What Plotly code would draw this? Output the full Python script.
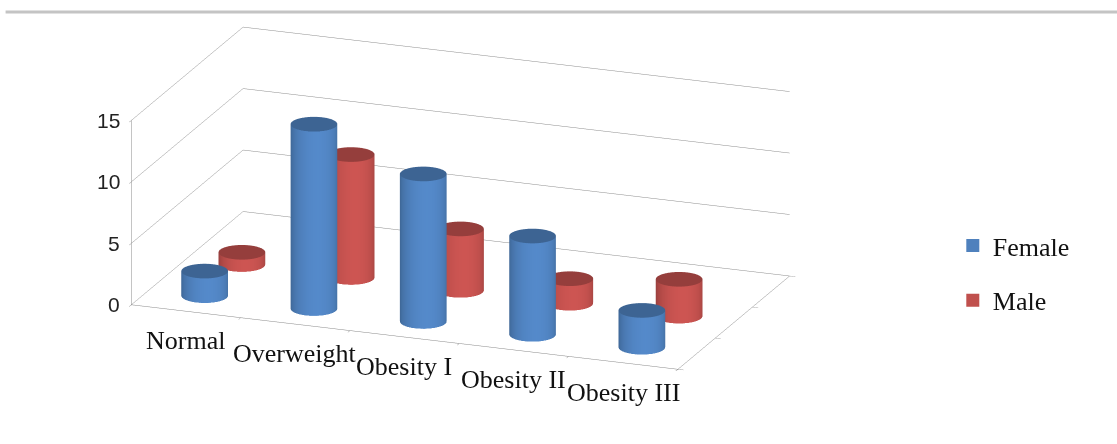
import numpy as np
import plotly.graph_objects as go

categories = ["Normal", "Overweight", "Obesity I", "Obesity II", "Obesity III"]
series_names = ["Female", "Male"]
female = [2, 15, 12, 8, 3]
male = [1, 10, 5, 2, 3]
z_ticks = [0, 5, 10, 15]

base_rgb = {"Female": (79, 129, 189), "Male": (192, 80, 77)}
legend_colors = {"Female": "#4F81BD", "Male": "#C0504D"}
values = {"Female": female, "Male": male}

AX, AY, AZ = 2.63, 1.43, 0.875
NX, NY = 5, 3
RX = 0.2
RY = RX * (AX / NX) / (AY / NY)
N = 72
ALPHA_DEG, THETA_DEG = 20.6, 15.4
LIGHT_ANGLE = np.radians(-60)


def shade(rgb, f):
    return "rgb(%d,%d,%d)" % tuple(int(min(255, c * f)) for c in rgb)


def cylinder(xc, yc, h, rgb, rx=RX, ry=RY, n=N):
    t = np.linspace(0, 2 * np.pi, n, endpoint=False)
    cx, cy = xc + rx * np.cos(t), yc + ry * np.sin(t)
    xs = list(cx) + list(cx) + list(cx) + [xc]
    ys = list(cy) + list(cy) + list(cy) + [yc]
    zs = [0] * n + [h] * n + [h] * n + [h]
    side = [shade(rgb, 0.8 + 0.27 * max(0.0, np.cos(a - LIGHT_ANGLE))) for a in t]
    cap = shade(rgb, 0.78)
    vc = side + side + [cap] * n + [cap]
    I, J, K = [], [], []
    for k in range(n):
        a, b = k, (k + 1) % n
        I += [a, b]
        J += [b, n + b]
        K += [n + a, n + a]
    c = 3 * n
    for k in range(n):
        a, b = 2 * n + k, 2 * n + (k + 1) % n
        I.append(c); J.append(a); K.append(b)
    return xs, ys, zs, I, J, K, vc


fig = go.Figure()
for si, name in reversed(list(enumerate(series_names))):
    for ci, v in enumerate(values[name]):
        xs, ys, zs, I, J, K, vc = cylinder(ci, si, v, base_rgb[name])
        fig.add_trace(go.Mesh3d(
            x=xs, y=ys, z=zs, i=I, j=J, k=K, vertexcolor=vc,
            flatshading=False, showlegend=False, hoverinfo="skip",
            lighting=dict(ambient=1.0, diffuse=0.0, specular=0.0,
                          roughness=1.0, fresnel=0.0),
        ))

for gi, name in enumerate(series_names):
    fig.add_trace(go.Scatter3d(
        x=[None], y=[None], z=[None], mode="markers", name=name,
        legendgroup=name,
        marker=dict(symbol="square", size=13, color=legend_colors[name]),
    ))

axis_common = dict(
    showbackground=True, backgroundcolor="white",
    gridcolor="#8c8c8c", gridwidth=1,
    showline=True, linecolor="#888888", linewidth=1,
    zeroline=False, showspikes=False, title=dict(text=""),
    showticklabels=False, ticks="outside", ticklen=6, tickcolor="#888888",
)

alpha = np.radians(ALPHA_DEG)
theta = np.radians(THETA_DEG)
r = 2.124
eye = dict(x=r * np.sin(alpha) * np.cos(theta),
           y=-r * np.cos(alpha) * np.cos(theta),
           z=r * np.sin(theta))

annotations = []
for ci, c in enumerate(categories):
    annotations.append(dict(x=ci, y=-0.5, z=0, text=c, showarrow=False,
                            xanchor="center", yanchor="top", yshift=-13,
                            font=dict(family="Liberation Serif", size=26, color="#111")))
for v in z_ticks:
    annotations.append(dict(x=-0.5, y=-0.5, z=v, text=str(v), showarrow=False,
                            xanchor="right", yanchor="middle", xshift=-9,
                            font=dict(family="Liberation Sans", size=21, color="#222")))

fig.update_layout(
    width=1117, height=444,
    margin=dict(l=0, r=0, t=0, b=0),
    paper_bgcolor="white",
    showlegend=True,
    legend=dict(x=0.853, y=0.385, xanchor="left", yanchor="middle",
                font=dict(family="Liberation Serif", size=26, color="#111"),
                tracegroupgap=18, bgcolor="rgba(0,0,0,0)"),
    scene=dict(
        domain=dict(x=[0.022, 0.802], y=[0.0, 1.0]),
        aspectmode="manual",
        aspectratio=dict(x=AX, y=AY, z=AZ),
        camera=dict(eye=eye, center=dict(x=0, y=0, z=-0.113),
                    up=dict(x=0, y=0, z=1),
                    projection=dict(type="orthographic")),
        xaxis=dict(axis_common, range=[-0.5, 4.5],
                   tickvals=[i - 0.5 for i in range(len(categories) + 1)],
                   showgrid=False),
        yaxis=dict(axis_common, range=[-0.5, 2.5], tickvals=[-0.5, 0.5, 1.5, 2.5],
                   showgrid=False),
        zaxis=dict(axis_common, range=[0, 15], tickvals=z_ticks),
        annotations=annotations,
    ),
    shapes=[dict(type="line", xref="paper", yref="paper", x0=0.005, x1=1, y0=1 - 12 / 444,
                 y1=1 - 12 / 444, line=dict(color="#c4c4c4", width=3))],
)

fig.write_html("out.html")
